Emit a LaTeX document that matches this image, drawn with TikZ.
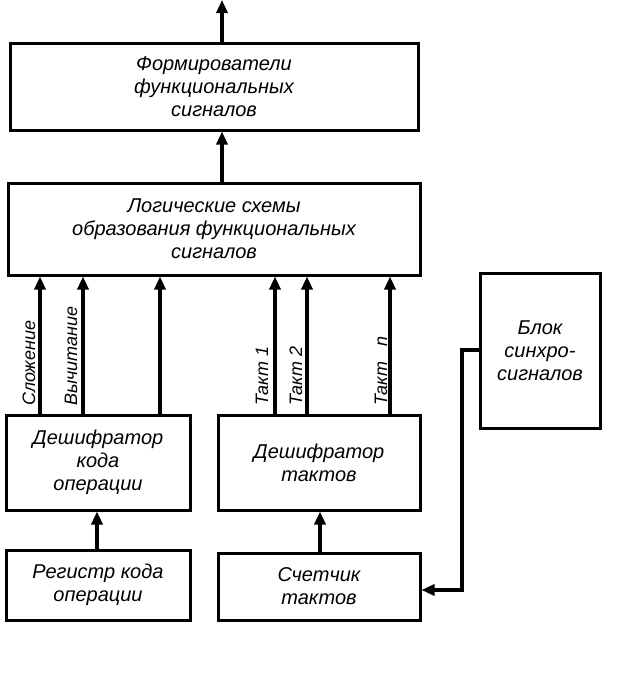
\documentclass[tikz,border=0pt]{standalone}
\usepackage{fontspec}
\setmainfont{Liberation Sans}
\usetikzlibrary{arrows.meta}
\begin{document}
\begin{tikzpicture}[x=1pt,y=-1pt,
  blok/.style={draw,line width=3pt,inner sep=0pt,align=center,font=\itshape\fontsize{20}{23}\selectfont},
  sig/.style={line width=4.5pt,-{Triangle[length=13pt,width=11pt]}},
  lbl/.style={rotate=90,anchor=west,font=\itshape\fontsize{18}{20}\selectfont,inner sep=0pt}]
\useasboundingbox (0,0) rectangle (624,686);
% bloki
\node[blok,minimum width=408,minimum height=87] (form) at (214,86.5) {Формирователи\\функциональных\\сигналов};
\node[blok,minimum width=412,minimum height=92] (logic) at (214,229) {Логические схемы\\образования функциональных\\сигналов};
\node[blok,minimum width=184,minimum height=95] (dko) at (98,462.5) {Дешифратор\\кода\\операции};
\node[blok,minimum width=202,minimum height=95] (dt) at (319,462.5) {Дешифратор\\тактов};
\node[blok,minimum width=184,minimum height=70] (rko) at (98,585) {Регистр кода\\операции};
\node[blok,minimum width=202,minimum height=67] (st) at (319,586.5) {Счетчик\\тактов};
\node[blok,minimum width=120,minimum height=155] (sync) at (540,350.5) {Блок\\синхро-\\сигналов};
\coordinate (out) at (222,0);
\coordinate (k1) at (462,350);
\coordinate (k2) at (462,590);
% svyazi
\draw[sig] (form.north -| out) -- (out);
\draw[sig] (logic.north -| out) -- (form.south -| out);
\foreach \x in {40,83,160} \draw[sig] (dko.north -| \x,0) -- (logic.south -| \x,0);
\foreach \x in {275,307,390} \draw[sig] (dt.north -| \x,0) -- (logic.south -| \x,0);
\draw[sig] (rko.north -| 97,0) -- (dko.south -| 97,0);
\draw[sig] (st.north -| 320,0) -- (dt.south -| 320,0);
\draw[sig,line width=3.5pt] (sync.west |- k1) -- (k1) -- (k2) -- (st.east |- k2);
% nadpisi
\node[lbl] (slo) at (29,406) {Сложение};
\node[lbl] (vyc) at (71,406) {Вычитание};
\node[lbl] (t1) at (262,406) {Такт 1};
\node[lbl] (t2) at (296,406) {Такт 2};
\node[lbl] (tn) at (381,406) {Такт\ \ \ n};
\end{tikzpicture}
\end{document}
